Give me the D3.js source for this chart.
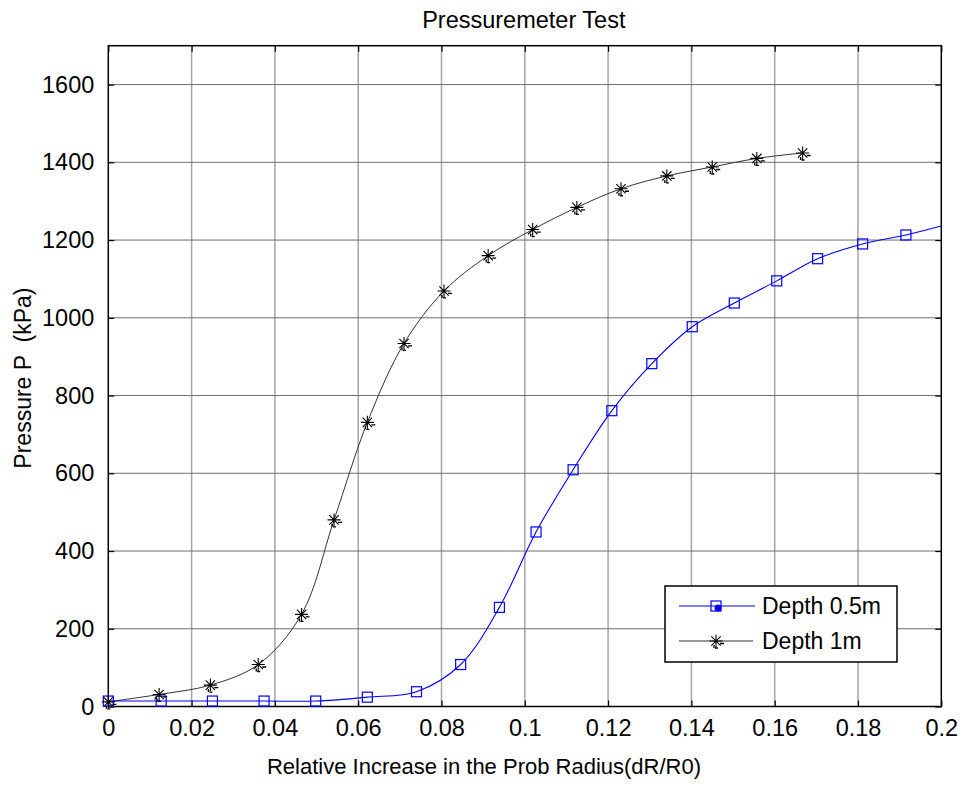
<!DOCTYPE html>
<html>
<head>
<meta charset="utf-8">
<script src="https://cdn.jsdelivr.net/npm/d3@7"></script>
<style>
  html, body { margin: 0; padding: 0; background: #fff; }
  svg text { font-family: "Liberation Sans", Arial, Helvetica, sans-serif; fill: #000; }
</style>
</head>
<body>
<svg id="chart" width="963" height="785"></svg>
<script>
// ---- Data ----
const xTicks = [0, 0.02, 0.04, 0.06, 0.08, 0.1, 0.12, 0.14, 0.16, 0.18, 0.2];
const xTickLabels = ["0", "0.02", "0.04", "0.06", "0.08", "0.1", "0.12", "0.14", "0.16", "0.18", "0.2"];
const yTicks = [0, 200, 400, 600, 800, 1000, 1200, 1400, 1600];
const yTickLabels = ["0", "200", "400", "600", "800", "1000", "1200", "1400", "1600"];

// Depth 0.5m (markers)
const blueX = [0, 0.0127, 0.025, 0.0374, 0.0498, 0.0622, 0.074, 0.0846, 0.0939, 0.1027, 0.1116, 0.1209, 0.1305, 0.1402, 0.1503, 0.1605, 0.1703, 0.1811, 0.1915];
const blueP = [14, 14, 14, 14, 14, 24, 38, 108, 255, 449, 609, 761, 882, 977, 1038, 1095, 1152, 1190, 1213];
// line continues past last marker to the axis edge
const blueTailX = [0.2];
const blueTailP = [1236];

// Depth 1m (markers)
const blackX = [0, 0.0122, 0.0245, 0.036, 0.0464, 0.0542, 0.0622, 0.071, 0.0806, 0.0912, 0.1019, 0.1125, 0.1231, 0.1341, 0.145, 0.1557, 0.1667];
const blackP = [12, 31, 55, 108, 237, 480, 731, 934, 1069, 1160, 1227, 1284, 1332, 1365, 1388, 1410, 1424];

const seriesNames = ["Depth 0.5m", "Depth 1m"];
const titleText = "Pressuremeter Test";
const xLabelText = "Relative Increase in the Prob Radius(dR/R0)";
const yLabelText = "Pressure P  (kPa)";

// ---- Layout ----
const L = 108.3, R = 941.3, T = 45.7, B = 706.5;
const svg = d3.select("#chart");
const x = d3.scaleLinear().domain([0, 0.2]).range([L, R]);
const y = d3.scaleLinear().domain([0, 1700]).range([B, T]);

// grid
const grid = svg.append("g");
grid.selectAll("line.vx").data(xTicks.slice(1, -1)).enter().append("line")
  .attr("x1", d => x(d)).attr("x2", d => x(d)).attr("y1", T).attr("y2", B)
  .attr("stroke", "#a6a6a6").attr("stroke-width", 1.5);
grid.selectAll("line.hy").data(yTicks.slice(1)).enter().append("line")
  .attr("x1", L).attr("x2", R).attr("y1", d => y(d)).attr("y2", d => y(d))
  .attr("stroke", "#6e6e6e").attr("stroke-width", 1);

// axes (MATLAB style: inward ticks on all sides)
const tickLen = 6;
const axB = svg.append("g").attr("transform", `translate(0,${B})`)
  .call(d3.axisBottom(x).tickValues(xTicks).tickFormat((d, i) => xTickLabels[i]).tickSizeInner(-tickLen).tickSizeOuter(0).tickPadding(13));
const axT = svg.append("g").attr("transform", `translate(0,${T})`)
  .call(d3.axisTop(x).tickValues(xTicks).tickFormat("").tickSizeInner(-tickLen).tickSizeOuter(0));
const axL = svg.append("g").attr("transform", `translate(${L},0)`)
  .call(d3.axisLeft(y).tickValues(yTicks).tickFormat((d, i) => yTickLabels[i]).tickSizeInner(-tickLen).tickSizeOuter(0).tickPadding(14));
const axR = svg.append("g").attr("transform", `translate(${R},0)`)
  .call(d3.axisRight(y).tickValues(yTicks).tickFormat("").tickSizeInner(-tickLen).tickSizeOuter(0));
[axB, axT, axL, axR].forEach(a => {
  a.select(".domain").remove();
  a.selectAll(".tick line").attr("stroke", "#000").attr("stroke-width", 1.2);
  a.selectAll(".tick text").attr("font-size", 23.5).attr("font-family", "Liberation Sans, Arial, sans-serif").attr("fill", "#000");
});
axB.selectAll(".tick text").attr("dy", "0.71em");
svg.append("rect").attr("x", L).attr("y", T).attr("width", R - L).attr("height", B - T)
  .attr("fill", "none").attr("stroke", "#000").attr("stroke-width", 1.5);

// lines
const line = d3.line().x(d => x(d[0])).y(d => y(d[1])).curve(d3.curveCatmullRom.alpha(0.5));
const blueLine = blueX.map((v, i) => [v, blueP[i]]).concat(blueTailX.map((v, i) => [v, blueTailP[i]]));
const blackLine = blackX.map((v, i) => [v, blackP[i]]);
svg.append("path").attr("d", line(blackLine)).attr("fill", "none").attr("stroke", "#333").attr("stroke-width", 1);
svg.append("path").attr("d", line(blueLine)).attr("fill", "none").attr("stroke", "#0000ff").attr("stroke-width", 1.1);

// markers
const sq = 10;
function square(g, cx, cy) {
  g.append("rect").attr("x", cx - sq / 2).attr("y", cy - sq / 2).attr("width", sq).attr("height", sq)
    .attr("fill", "none").attr("stroke", "#0000ff").attr("stroke-width", 1.2);
}
function star(g, cx, cy) {
  const s = 6.5, d = s * 0.72;
  const p = `M${cx - s},${cy}H${cx + s}M${cx},${cy - s}V${cy + s}M${cx - d},${cy - d}L${cx + d},${cy + d}M${cx - d},${cy + d}L${cx + d},${cy - d}`;
  g.append("path").attr("d", p).attr("stroke", "#000").attr("stroke-width", 1.1).attr("fill", "none");
  // small dash artefacts
  g.append("path").attr("d", `M${cx + 4},${cy + 2.5}h4M${cx - 1},${cy + 7}h3M${cx - 2},${cy + 4}v3`)
    .attr("stroke", "#000").attr("stroke-width", 1.3).attr("fill", "none");
}
const mk = svg.append("g");
blueX.forEach((v, i) => square(mk, x(v), y(blueP[i])));
blackX.forEach((v, i) => star(mk, x(v), y(blackP[i])));

// title & labels
svg.append("text").attr("x", (L + R) / 2 - 1).attr("y", 28).attr("text-anchor", "middle")
  .attr("font-size", 23.5).text(titleText);
svg.append("text").attr("x", 484).attr("y", 774).attr("text-anchor", "middle")
  .attr("font-size", 22).text(xLabelText);
svg.append("text").attr("transform", `translate(31,${(T + B) / 2 + 2}) rotate(-90)`)
  .attr("text-anchor", "middle").attr("font-size", 23).style("white-space", "pre").text(yLabelText);

// legend
const lg = svg.append("g");
lg.append("rect").attr("x", 665).attr("y", 586).attr("width", 232).attr("height", 76)
  .attr("fill", "#fff").attr("stroke", "#000").attr("stroke-width", 1.5);
const rows = [606, 641];
lg.append("line").attr("x1", 679).attr("x2", 755).attr("y1", rows[0]).attr("y2", rows[0]).attr("stroke", "#0000ff").attr("stroke-width", 1.1);
square(lg, 716, rows[0]);
lg.append("circle").attr("cx", 718).attr("cy", rows[0] + 2).attr("r", 3.5).attr("fill", "#0000ff");
lg.append("line").attr("x1", 679).attr("x2", 753).attr("y1", rows[1]).attr("y2", rows[1]).attr("stroke", "#333").attr("stroke-width", 1);
star(lg, 716, rows[1]);
seriesNames.forEach((n, i) => {
  lg.append("text").attr("x", 762).attr("y", rows[i] + 8).attr("font-size", 23).text(n);
});
</script>
</body>
</html>
